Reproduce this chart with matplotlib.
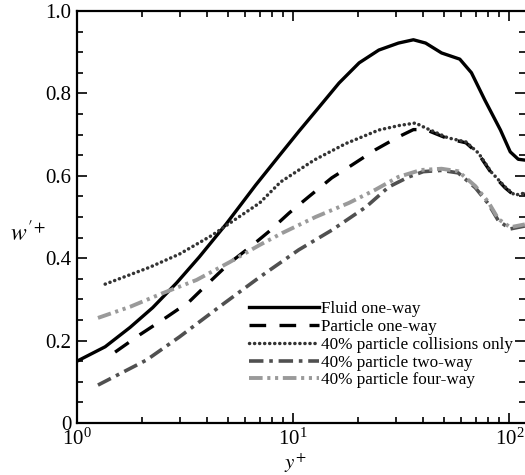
import matplotlib
matplotlib.use("Agg")
import matplotlib.pyplot as plt
from matplotlib.ticker import FixedLocator, FixedFormatter, LogLocator, MultipleLocator

plt.rcParams['font.family'] = ['Liberation Serif', 'DejaVu Serif']
plt.rcParams['mathtext.fontset'] = 'stix'

# 曲线数据
x_fluid = [1.0, 1.35, 1.76, 2.24, 2.89, 3.68, 4.9, 6.7, 8.6, 10.6, 13.2, 16.3, 20.2, 24.9,
           30.7, 36, 41, 48.6, 59, 66.8, 77, 91, 101, 110, 118]
y_fluid = [0.150, 0.185, 0.232, 0.28, 0.34, 0.403, 0.483, 0.577, 0.648, 0.707, 0.767, 0.825,
           0.874, 0.905, 0.922, 0.93, 0.922, 0.898, 0.883, 0.85, 0.784, 0.711, 0.658, 0.640,
           0.638]

x_part = [1.5, 1.95, 2.6, 3.3, 3.97, 5.07, 6.5, 7.7, 9.6, 11.8, 15.1, 18.7, 24, 30.6, 36,
          41, 52, 63, 72, 82.5, 95.5, 106, 118]
y_part = [0.172, 0.214, 0.257, 0.294, 0.335, 0.388, 0.432, 0.464, 0.51, 0.549, 0.595, 0.626,
          0.663, 0.694, 0.712, 0.712, 0.69, 0.68, 0.653, 0.607, 0.571, 0.551, 0.556]

x_coll = [1.35, 2.17, 2.98, 4.2, 5.5, 7.0, 8.75, 12.5, 17.5, 24.9, 31, 36.8, 41, 52, 63, 72,
          82.5, 95.5, 106, 118]
y_coll = [0.337, 0.378, 0.41, 0.455, 0.497, 0.534, 0.585, 0.638, 0.678, 0.711, 0.722,
          0.728, 0.716, 0.692, 0.682, 0.655, 0.609, 0.573, 0.553, 0.558]

x_two = [1.25, 2.1, 2.98, 4.56, 7.0, 10.6, 15.1, 21.7, 27.7, 34.2, 40, 48.6, 58, 69.6, 80,
         89, 101, 118]
y_two = [0.092, 0.153, 0.209, 0.282, 0.354, 0.42, 0.468, 0.524, 0.573, 0.597, 0.61, 0.613,
         0.607, 0.571, 0.532, 0.491, 0.471, 0.478]

x_four = [1.25, 1.76, 2.49, 3.57, 5.07, 7.0, 8.9, 12.7, 18.1, 24, 30.6, 39, 48.6, 58, 69.6,
          80, 89, 101, 118]
y_four = [0.255, 0.282, 0.315, 0.347, 0.39, 0.432, 0.461, 0.5, 0.534, 0.566, 0.597, 0.614,
          0.617, 0.611, 0.575, 0.536, 0.495, 0.475, 0.482]

labels = ["Fluid one-way", "Particle one-way", "40% particle collisions only",
          "40% particle two-way", "40% particle four-way"]
y_ticks = [0, 0.2, 0.4, 0.6, 0.8, 1.0]
y_ticklabels = ["0", "0.2", "0.4", "0.6", "0.8", "1.0"]

fig = plt.figure(figsize=(5.25, 4.75), dpi=100)
ax = fig.add_axes([0.1467, 0.1095, 0.853, 0.8675])

ax.plot(x_fluid, y_fluid, color='black', lw=2.4, label=labels[0])
ax.plot(x_part, y_part, color='black', lw=2.4, dashes=(5, 4), label=labels[1])
ax.plot(x_coll, y_coll, color='#333333', lw=2.5, dashes=(0.05, 1.4),
        dash_capstyle='round', label=labels[2])
ax.plot(x_two, y_two, color='#505050', lw=2.6, dashes=(4, 1.6, 1, 1.6), label=labels[3])
ax.plot(x_four, y_four, color='#9a9a9a', lw=2.8, dashes=(3.5, 1.2, 0.8, 1.2, 0.8, 1.2),
        label=labels[4])

ax.set_xscale('log')
ax.set_xlim(1, 118)
ax.set_ylim(0, 1.0)
ax.xaxis.set_major_locator(LogLocator(base=10))
ax.xaxis.set_minor_locator(LogLocator(base=10, subs=range(2, 10)))
ax.yaxis.set_major_locator(FixedLocator(y_ticks))
ax.yaxis.set_major_formatter(FixedFormatter(y_ticklabels))
ax.yaxis.set_minor_locator(MultipleLocator(0.05))

ax.tick_params(which='both', direction='in', top=True, right=True, width=1.2,
               labelsize=15)
ax.tick_params(which='major', length=7, pad=4)
ax.tick_params(axis='x', which='major', pad=4)
ax.tick_params(which='minor', length=4)
for s in ax.spines.values():
    s.set_linewidth(1.6)
ax.spines['right'].set_visible(False)

ax.set_xlabel(r'$y^{+}$', fontsize=15)
ax.xaxis.set_label_coords(0.487, -0.07)
ax.set_ylabel(r"$w'^{+}$", fontsize=17, rotation=0)
ax.yaxis.set_label_coords(-0.11, 0.43)

ax.legend(loc='upper left', bbox_to_anchor=(0.385, 0.295), frameon=False, fontsize=12.3,
          handlelength=4.1, handletextpad=0.1, labelspacing=0.1, borderpad=0,
          borderaxespad=0)

fig.savefig("out.png", dpi=100)
